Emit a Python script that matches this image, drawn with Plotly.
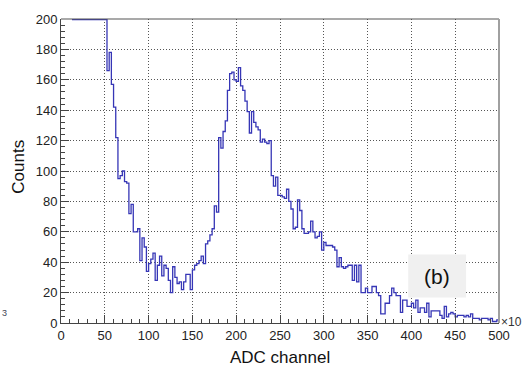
import numpy as np
import plotly.graph_objects as go

# Histogram: bins of width 2.5 starting at 12.5 (ADC channel, x10^3)
bin_start = 12.5
bin_width = 2.5
counts = [
    # 12.5 - 47.5 (off-scale, clipped at the top of the frame)
    1200, 1500, 1400, 1100, 900, 750, 600, 500, 420, 360, 320, 290, 260, 240, 215,
    212, 166, 178, 157,   # 50
    142, 122, 95, 97,     # 60
    100, 93, 92, 72,      # 70
    78, 60, 60, 62,       # 80
    41, 56, 50, 34,       # 90
    39, 42, 46, 28,       # 100
    38, 44, 31, 38,       # 110
    36, 28, 20, 37,       # 120
    30, 26, 27, 22,       # 130
    27, 32, 32, 22,       # 140
    35, 38, 39, 41,       # 150
    44, 39, 52, 54,       # 160
    58, 62, 77, 73,       # 170
    122, 115, 126, 133,   # 180
    153, 164, 165, 160,   # 190
    159, 168, 156, 153,   # 200
    146, 139, 125, 139,   # 210
    132, 129, 127, 119,   # 220
    121, 119, 118, 120,   # 230
    97, 90, 96, 84,       # 240
    84, 83, 82, 88,       # 250
    80, 75, 62, 63,       # 260
    81, 74, 62, 59,       # 270
    59, 60, 67, 60,       # 280
    56, 57, 60, 48,       # 290
    53, 51, 51, 51,       # 300
    50, 48, 37, 43,       # 310
    37, 36, 37, 38,       # 320
    38, 28, 38, 27,       # 330
    38, 20, 20, 23,       # 340
    20, 20, 24, 24,       # 350
    20, 18, 6, 6,         # 360
    13, 13, 18, 23,       # 370
    20, 18, 18, 7,        # 380
    15, 15, 11, 11,       # 390
    13, 10, 15, 7,        # 400
    10, 10, 7, 13,        # 410
    4, 8, 8, 8,           # 420
    8, 5, 3, 11,          # 430
    4, 6, 7, 6,           # 440
    4, 5, 5, 5,           # 450
    4, 5, 4, 6,           # 460
    3, 3, 3, 2,           # 470
    3, 3, 3, 2,           # 480
    3, 1, 1, 2,           # 490
]

x_ticks = [0, 50, 100, 150, 200, 250, 300, 350, 400, 450, 500]
y_ticks = [0, 20, 40, 60, 80, 100, 120, 140, 160, 180, 200]
x_title = "ADC channel"
y_title = "Counts"
label_text = "(b)"

Y_MAX = 200
X_MAX = 500

counts_arr = np.array(counts, dtype=float)
edges = bin_start + bin_width * np.arange(len(counts_arr) + 1)
xs = edges
ys = np.append(counts_arr, counts_arr[-1])
ys_draw = np.minimum(ys, Y_MAX - 0.4)  # ROOT-like clipping at frame top

W, H = 522, 368
L, R, T, B = 61, 22, 12, 45
pw, ph = W - L - R, H - T - B

def px2paper(px, py):
    return (px - L) / pw, (H - B - py) / ph

fig = go.Figure()
fig.add_trace(go.Scatter(
    x=xs, y=ys_draw, mode="lines",
    line=dict(shape="hv", color="#3636b6", width=1.3),
    hoverinfo="skip", showlegend=False,
))

font_family = "Liberation Sans, Arial, sans-serif"
common_axis = dict(
    ticks="inside", ticklen=8, tickwidth=1, tickcolor="#444",
    showgrid=True, gridcolor="#555", griddash="1px,2px", gridwidth=1,
    showline=True, linecolor="#444", linewidth=1,
    zeroline=False, mirror=False,
    tickfont=dict(family=font_family, size=13, color="#222"),
)
fig.update_xaxes(range=[0, X_MAX], tickvals=x_ticks, **common_axis,
                 minor=dict(dtick=10, ticklen=4, ticks="inside", tickcolor="#444", showgrid=False))
fig.update_yaxes(range=[0, Y_MAX], tickvals=y_ticks, **common_axis,
                 minor=dict(dtick=4, ticklen=4, ticks="inside", tickcolor="#444", showgrid=False))

# frame top (dark) and right (light grey, thicker)
fig.add_shape(type="line", xref="paper", yref="paper", x0=0, x1=1, y0=1, y1=1,
              line=dict(color="#555", width=1.2))
fig.add_shape(type="line", xref="paper", yref="paper", x0=1, x1=1, y0=0, y1=1,
              line=dict(color="#a0a0a0", width=2))

# (b) label box
bx0, by0 = px2paper(409, 297)
bx1, by1 = px2paper(467, 253)
fig.add_shape(type="rect", xref="paper", yref="paper", x0=bx0, x1=bx1, y0=by0, y1=by1,
              fillcolor="#f0f0f0", line=dict(width=0), layer="above")
cx, cy = px2paper(438, 275)
annotations = [
    dict(text=label_text, x=cx, y=cy, font=dict(family=font_family, size=21, color="#111")),
]
tx, ty = px2paper(280, 358)
annotations.append(dict(text=x_title, x=tx, y=ty, font=dict(family=font_family, size=17, color="#111")))
yx, yy = px2paper(19, 163)
annotations.append(dict(text=y_title, x=yx, y=yy, textangle=-90,
                        font=dict(family=font_family, size=17, color="#111")))
ex, ey = px2paper(500.5, 322)
annotations.append(dict(text="×10", x=ex, y=ey, xanchor="left",
                        font=dict(family=font_family, size=12, color="#333")))
sx, sy = px2paper(0, 313)
annotations.append(dict(text="3", x=sx, y=sy, xanchor="left",
                        font=dict(family=font_family, size=9, color="#445")))
for a in annotations:
    a.update(xref="paper", yref="paper", showarrow=False)
    a.setdefault("xanchor", "center")
    a.setdefault("yanchor", "middle")

fig.update_layout(
    width=W, height=H,
    margin=dict(l=L, r=R, t=T, b=B, pad=0),
    paper_bgcolor="white", plot_bgcolor="white",
    annotations=annotations,
    font=dict(family=font_family),
)

fig.write_html("out.html")
